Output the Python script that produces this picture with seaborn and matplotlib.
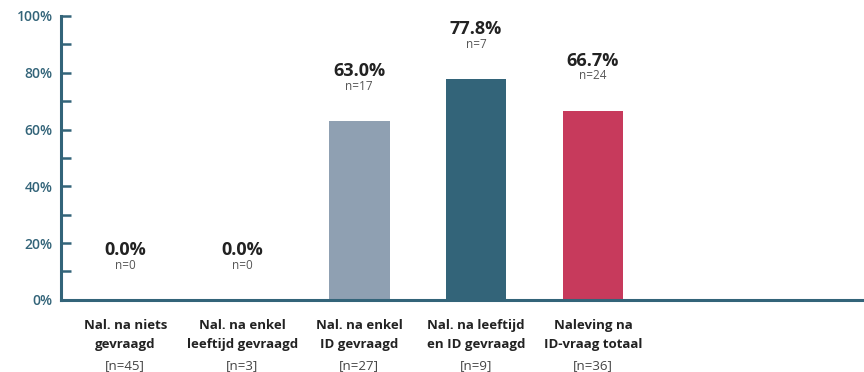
import matplotlib
matplotlib.use("Agg")
import matplotlib.pyplot as plt
import matplotlib.transforms as mtransforms
import pandas as pd
import seaborn as sns

categories = [
    "Nal. na niets\ngevraagd",
    "Nal. na enkel\nleeftijd gevraagd",
    "Nal. na enkel\nID gevraagd",
    "Nal. na leeftijd\nen ID gevraagd",
    "Naleving na\nID-vraag totaal",
]
percentages = [0.0, 0.0, 63.0, 77.8, 66.7]
compliant_n = [0, 0, 17, 7, 24]
group_n = [45, 3, 27, 9, 36]
bar_colors = ["#8fa0b2", "#8fa0b2", "#8fa0b2", "#336479", "#c73a5c"]
y_ticks = [0, 20, 40, 60, 80, 100]
y_tick_labels = ["0%", "20%", "40%", "60%", "80%", "100%"]

axis_color = "#336479"
font = ["Open Sans", "DejaVu Sans"]

sns.set_theme(style="white")
plt.rcParams["font.family"] = font

df = pd.DataFrame({"groep": categories, "pct": percentages})

fig = plt.figure(figsize=(8.64, 3.72), dpi=100)
ax = fig.add_axes([0.0706, 0.194, 0.927, 0.763])

sns.barplot(data=df, x="groep", y="pct", hue="groep", palette=bar_colors,
            width=0.52, saturation=1, legend=False, linewidth=0, ax=ax)

ax.set_ylim(0, 100)
ax.set_xlim(-0.55, 6.3)
ax.set_xlabel("")
ax.set_ylabel("")

for side in ("top", "right"):
    ax.spines[side].set_visible(False)
for side in ("left", "bottom"):
    ax.spines[side].set_color(axis_color)
    ax.spines[side].set_linewidth(2.2)

ax.set_yticks(y_ticks)
ax.set_yticklabels(y_tick_labels, fontsize=10, fontweight="semibold", color=axis_color)
ax.set_yticks([10, 30, 50, 70, 90], minor=True)
ax.tick_params(axis="y", which="both", direction="in", length=7, width=1.8,
               color=axis_color, pad=6, left=True)
ax.set_xticks(range(len(categories)))
ax.set_xticklabels([])
ax.tick_params(axis="x", length=0)

# value labels above each bar
for i, (p, n) in enumerate(zip(percentages, compliant_n)):
    ax.annotate(f"{p:.1f}%", (i, p), xytext=(0, 36), textcoords="offset points",
                ha="center", va="center", fontsize=13, fontweight="bold",
                color="#222222")
    ax.annotate(f"n={n}", (i, p), xytext=(0, 25), textcoords="offset points",
                ha="center", va="center", fontsize=8.5, color="#555555")

# category labels with group sizes below the axis
trans = mtransforms.blended_transform_factory(ax.transData, fig.transFigure)
for i, (cat, n) in enumerate(zip(categories, group_n)):
    ax.text(i, 1 - 335 / 372, cat, transform=trans, ha="center", va="center",
            fontsize=9.5, fontweight="bold", color="#222222", linespacing=1.55)
    ax.text(i, 1 - 366 / 372, f"[n={n}]", transform=trans, ha="center",
            va="center", fontsize=9.5, color="#444444")

fig.savefig("out.png", dpi=100)
